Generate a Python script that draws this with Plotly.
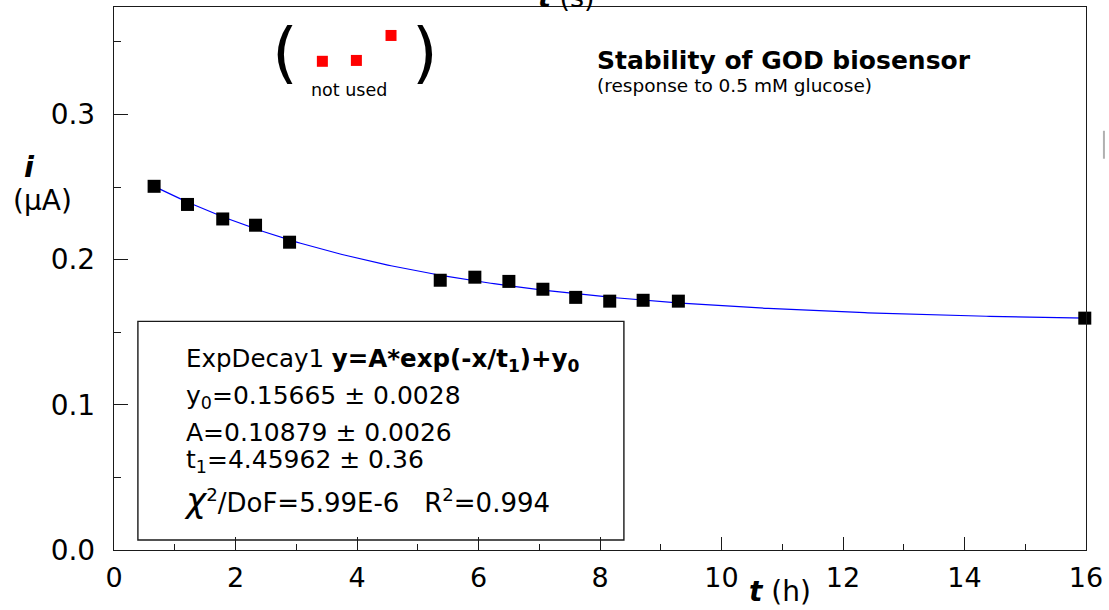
import numpy as np
import plotly.graph_objects as go

# Measured sensor response (µA) versus elapsed time (h)
t_hours = [0.66, 1.21, 1.79, 2.33, 2.89, 5.37, 5.94, 6.50, 7.06, 7.60, 8.16, 8.71, 9.29, 15.98]
current_uA = [0.2505, 0.2380, 0.2280, 0.2237, 0.2120, 0.1858, 0.1879, 0.1850,
              0.1796, 0.1740, 0.1714, 0.1720, 0.1714, 0.1597]

# Points excluded from the fit
unused_t = [3.43, 3.99, 4.56]
unused_i = [0.3366, 0.3372, 0.3544]

# ExpDecay1 fit parameters
fit_y0 = 0.15665
fit_A = 0.10879
fit_t1 = 4.45962

x_ticks = [0, 2, 4, 6, 8, 10, 12, 14, 16]
y_ticks = [0.0, 0.1, 0.2, 0.3]

FONT = "DejaVu Sans, Liberation Sans, Arial, sans-serif"

# Plot-area pixel geometry used to place the free text
W, H = 1109, 610
L, R, T, B = 114, 19, 6, 60
PW, PH = W - L - R, H - T - B


def px(x):
    return (x - L) / PW


def py(y):
    return (H - B - y) / PH


fit_x = np.linspace(t_hours[0], 16, 300)
fit_y = fit_A * np.exp(-fit_x / fit_t1) + fit_y0

fig = go.Figure()
fig.add_trace(go.Scatter(x=fit_x, y=fit_y, mode="lines",
                         line=dict(color="#0000ff", width=1.2),
                         hoverinfo="skip", showlegend=False))
fig.add_trace(go.Scatter(x=t_hours, y=current_uA, mode="markers",
                         marker=dict(symbol="square", size=13, color="black",
                                     line=dict(width=0)),
                         showlegend=False, cliponaxis=False))
fig.add_trace(go.Scatter(x=unused_t, y=unused_i, mode="markers",
                         marker=dict(symbol="square", size=11, color="#ff0000",
                                     line=dict(width=0)),
                         showlegend=False))

axis_line = dict(showline=True, linecolor="#1a1a1a", linewidth=1.4, mirror=True,
                 showgrid=False, zeroline=False)

fig.update_xaxes(range=[0, 16], tickvals=x_ticks, ticktext=[str(v) for v in x_ticks],
                 ticks="inside", ticklen=13, tickwidth=1.2, tickcolor="#1a1a1a",
                 minor=dict(dtick=1, ticks="inside", ticklen=6, tickwidth=1.1,
                            tickcolor="#1a1a1a"),
                 tickfont=dict(family=FONT, size=27, color="black"),
                 ticklabelstandoff=3, **axis_line)
fig.update_yaxes(range=[0, 0.374], tickvals=y_ticks, tickformat=".1f",
                 ticks="inside", ticklen=14, tickwidth=1.2, tickcolor="#1a1a1a",
                 minor=dict(dtick=0.05, ticks="inside", ticklen=7, tickwidth=1.1,
                            tickcolor="#1a1a1a"),
                 tickfont=dict(family=FONT, size=28, color="black"),
                 ticklabelstandoff=12, **axis_line)

ann = []


def text(x, y, s, size, xanchor="center", yanchor="middle", bold=False):
    ann.append(dict(x=px(x), y=py(y), xref="paper", yref="paper", text=s,
                    showarrow=False, xanchor=xanchor, yanchor=yanchor,
                    font=dict(family=FONT, size=size, color="black",
                              weight="bold" if bold else "normal")))


# Axis titles
text(29, 166, "<b><i>i</i></b>", 29)
text(42, 200, "(µA)", 28)
text(783, 592, "<b><i>t</i></b> (h)", 28)
text(568, -4, "<b><i>t</i></b> (s)", 27)

# Chart title
text(597, 60, "Stability of GOD biosensor", 25, xanchor="left", bold=True)
text(597, 85, "(response to 0.5 mM glucose)", 18.5, xanchor="left")

# Bracket around the excluded points
text(286, 52, "(", 66)
text(426, 52, ")", 66)
text(350, 89, "not used", 17.5)

# Fit summary
text(184, 360, "ExpDecay1 <b>y=A*exp(-x/t<sub>1</sub>)+y<sub>0</sub></b>", 24.5, xanchor="left")
text(184, 397, f"y<sub>0</sub>={fit_y0} ± 0.0028", 25, xanchor="left")
text(184, 432, f"A={fit_A} ± 0.0026", 25, xanchor="left")
text(184, 461, f"t<sub>1</sub>={fit_t1} ± 0.36", 25, xanchor="left")
text(182, 500, "<span style='font-size:34px'><i>χ</i></span><sup>2</sup>/DoF=5.99E-6\u00a0\u00a0\u00a0R<sup>2</sup>=0.994",
     26, xanchor="left")

shapes = [
    dict(type="rect", xref="paper", yref="paper",
         x0=px(138), x1=px(626), y0=py(540), y1=py(321),
         line=dict(color="#1a1a1a", width=1.4), fillcolor="rgba(0,0,0,0)"),
    dict(type="line", xref="paper", yref="paper",
         x0=px(1108), x1=px(1108), y0=py(130), y1=py(158),
         line=dict(color="#b0b0b0", width=2)),
]

fig.update_layout(width=W, height=H, margin=dict(l=L, r=R, t=T, b=B),
                  plot_bgcolor="white", paper_bgcolor="white",
                  annotations=ann, shapes=shapes, showlegend=False)

fig.write_html("out.html")
